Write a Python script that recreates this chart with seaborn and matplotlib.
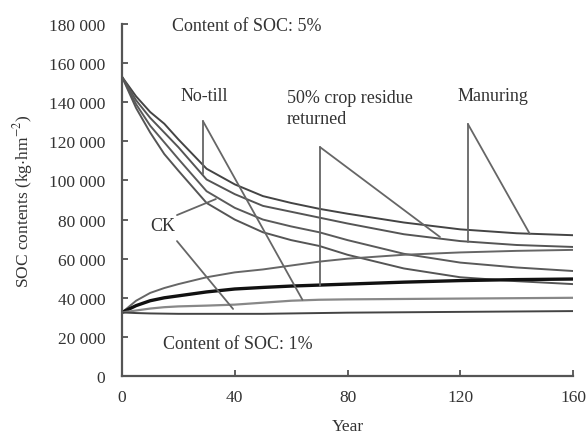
import numpy as np
import pandas as pd
import seaborn as sns
import matplotlib
matplotlib.use("Agg")
import matplotlib.pyplot as plt
from matplotlib.ticker import FuncFormatter

years = [0, 5, 10, 15, 20, 30, 40, 50, 60, 70, 80, 100, 120, 140, 160]

# initial SOC content 5 %
manuring_5 = [153000, 143000, 135000, 129000, 121000, 106000, 98000, 92000, 88500, 85500, 83000, 78500, 75000, 73000, 72000]
residue_5 = [153000, 141000, 132000, 124500, 117000, 100500, 93000, 87000, 84000, 81000, 78000, 72500, 69000, 67000, 66000]
notill_5 = [153000, 139000, 128000, 119500, 111000, 94500, 86000, 80000, 76500, 73500, 69500, 62500, 58000, 55500, 53700]
ck_5 = [153000, 137000, 124500, 113500, 105000, 88500, 80000, 73500, 69500, 66500, 62000, 55000, 50500, 48500, 47000]

# initial SOC content 1 %
manuring_1 = [32500, 38500, 42500, 45000, 47000, 50500, 53000, 54500, 56500, 58500, 60000, 62000, 63200, 64000, 64500]
residue_1 = [32500, 36000, 38500, 40000, 41000, 43000, 44500, 45300, 46000, 46500, 47000, 48000, 48800, 49300, 49600]
notill_1 = [32500, 33500, 34500, 35200, 35600, 36000, 36500, 37500, 38500, 39000, 39200, 39400, 39600, 39800, 40000]
ck_1 = [32500, 32200, 32000, 31900, 31800, 31800, 31800, 31800, 32000, 32200, 32400, 32600, 32800, 33000, 33200]

series = {
    "Manuring 5%": (manuring_5, "#444444", 1.4),
    "50% residue 5%": (residue_5, "#555555", 1.4),
    "No-till 5%": (notill_5, "#5a5a5a", 1.4),
    "CK 5%": (ck_5, "#555555", 1.4),
    "Manuring 1%": (manuring_1, "#666666", 1.4),
    "50% residue 1%": (residue_1, "#111111", 2.4),
    "No-till 1%": (notill_1, "#888888", 1.6),
    "CK 1%": (ck_1, "#444444", 1.4),
}

sns.set_style("ticks")
plt.rcParams["font.family"] = ["Liberation Serif", "DejaVu Serif"]
plt.rcParams["mathtext.fontset"] = "stix"

fig = plt.figure(figsize=(5.88, 4.39), dpi=100)
ax = fig.add_axes([0.2075, 0.1412, 0.767, 0.8018])

for name, (vals, col, lw) in series.items():
    sns.lineplot(x=years, y=vals, ax=ax, color=col, lw=lw)

ax.set_xlim(0, 160)
ax.set_ylim(0, 180000)
ax.set_xticks([0, 40, 80, 120, 160])
ax.set_yticks(np.arange(0, 180001, 20000))
ax.yaxis.set_major_formatter(FuncFormatter(lambda v, p: f"{int(v):,}".replace(",", " ")))
ax.tick_params(direction="in", length=4, width=1.2, colors="#444444", labelsize=12.5, labelcolor="#333333")
ax.tick_params(axis="y", pad=12)
ax.tick_params(axis="x", pad=9)
for s in ["top", "right"]:
    ax.spines[s].set_visible(False)
for s in ["left", "bottom"]:
    ax.spines[s].set_color("#555555")
    ax.spines[s].set_linewidth(1.6)

ax.set_xlabel("Year", fontsize=12.5, color="#333333", labelpad=10)
ax.set_ylabel(r"SOC contents (kg$\cdot$hm$^{-2}$)", fontsize=12.5, color="#333333", labelpad=10)

tk = dict(fontsize=13, color="#333333", va="center", ha="left")
ax.text(17.7, 179000, "Content of SOC: 5%", **tk)
ax.text(14.5, 16400, "Content of SOC: 1%", **tk)
ax.text(20.6, 143200, "No-till", **tk)
ax.text(58.5, 137000, "50% crop residue\nreturned", linespacing=1.35, **tk)
ax.text(119.2, 143200, "Manuring", **tk)
ax.text(9.9, 77200, "CK", **tk)

# pointer lines from the labels
pointers = [
    ((28.7, 130400), (28.7, 103300)),
    ((28.7, 130400), (64.0, 39000)),
    ((70.2, 117100), (70.2, 46000)),
    ((70.2, 117100), (112.8, 71100)),
    ((122.7, 128900), (122.7, 68500)),
    ((122.7, 128900), (144.7, 72600)),
    ((19.5, 82300), (33.3, 90500)),
    ((19.5, 69000), (39.4, 34300)),
]
for (x0, y0), (x1, y1) in pointers:
    ax.plot([x0, x1], [y0, y1], color="#666666", lw=1.3)

fig.savefig("out.png", dpi=100)
